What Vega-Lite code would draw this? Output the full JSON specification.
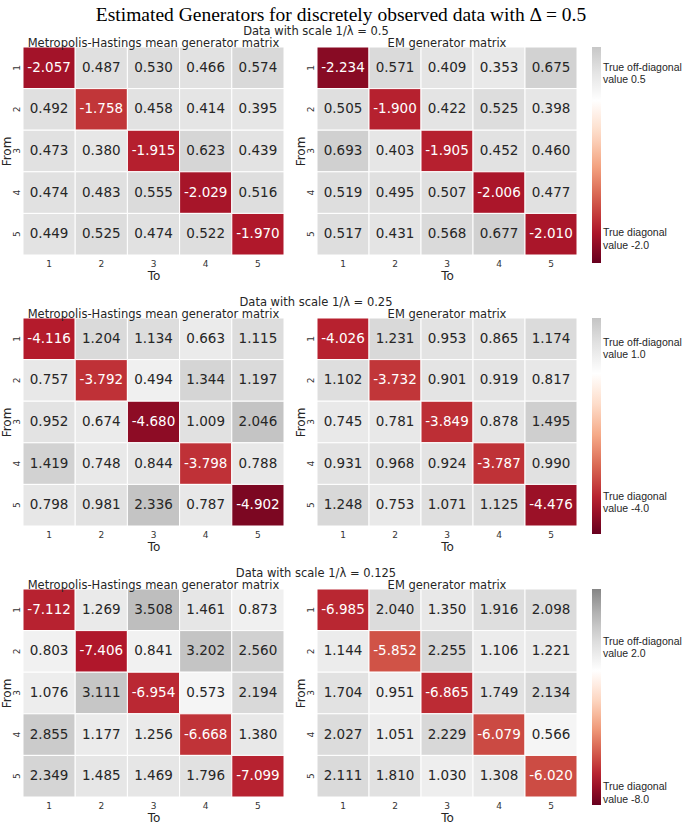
{
  "$schema": "https://vega.github.io/schema/vega-lite/v6.json",
  "padding": {"left": 0, "top": 5, "right": 0, "bottom": 0},
  "background": "white",
  "title": {"text": "Estimated Generators for discretely observed data with Δ = 0.5", "font": "Liberation Serif", "fontSize": 19.5, "fontWeight": "normal", "color": "#000000", "anchor": "middle", "frame": "bounds", "offset": 0},
  "config": {
    "locale": {"number": {"decimal": ".", "thousands": ",", "grouping": [3], "currency": ["$", ""], "minus": "-"}},
    "view": {"stroke": null},
    "font": "DejaVu Sans",
    "title": {"font": "DejaVu Sans", "fontSize": 11.5, "fontWeight": "normal", "color": "#262626", "offset": -3},
    "axis": {"domain": false, "ticks": false, "labelFont": "DejaVu Sans", "labelFontSize": 9, "labelColor": "#333333", "titleFont": "DejaVu Sans", "titleFontSize": 12, "titleFontWeight": "normal", "titleColor": "#262626", "grid": false},
    "axisX": {"labelAngle": 0, "labelPadding": 4, "titlePadding": 2},
    "axisY": {"labelAngle": -90, "labelPadding": 2, "titlePadding": 0, "minExtent": 10, "maxExtent": 10},
    "legend": {"gradientLength": 216, "gradientThickness": 9, "labelFont": "Liberation Sans", "labelFontSize": 10.5, "labelColor": "#262626", "offset": 14, "gradientStrokeWidth": 0, "labelOffset": 3, "titlePadding": 0}
  },
  "datasets": {
    "d": [
      {"s":1,"m":"MH","f":1,"t":1,"v":-2.057},{"s":1,"m":"MH","f":1,"t":2,"v":0.487},{"s":1,"m":"MH","f":1,"t":3,"v":0.530},{"s":1,"m":"MH","f":1,"t":4,"v":0.466},{"s":1,"m":"MH","f":1,"t":5,"v":0.574},
      {"s":1,"m":"MH","f":2,"t":1,"v":0.492},{"s":1,"m":"MH","f":2,"t":2,"v":-1.758},{"s":1,"m":"MH","f":2,"t":3,"v":0.458},{"s":1,"m":"MH","f":2,"t":4,"v":0.414},{"s":1,"m":"MH","f":2,"t":5,"v":0.395},
      {"s":1,"m":"MH","f":3,"t":1,"v":0.473},{"s":1,"m":"MH","f":3,"t":2,"v":0.380},{"s":1,"m":"MH","f":3,"t":3,"v":-1.915},{"s":1,"m":"MH","f":3,"t":4,"v":0.623},{"s":1,"m":"MH","f":3,"t":5,"v":0.439},
      {"s":1,"m":"MH","f":4,"t":1,"v":0.474},{"s":1,"m":"MH","f":4,"t":2,"v":0.483},{"s":1,"m":"MH","f":4,"t":3,"v":0.555},{"s":1,"m":"MH","f":4,"t":4,"v":-2.029},{"s":1,"m":"MH","f":4,"t":5,"v":0.516},
      {"s":1,"m":"MH","f":5,"t":1,"v":0.449},{"s":1,"m":"MH","f":5,"t":2,"v":0.525},{"s":1,"m":"MH","f":5,"t":3,"v":0.474},{"s":1,"m":"MH","f":5,"t":4,"v":0.522},{"s":1,"m":"MH","f":5,"t":5,"v":-1.970},
      {"s":1,"m":"EM","f":1,"t":1,"v":-2.234},{"s":1,"m":"EM","f":1,"t":2,"v":0.571},{"s":1,"m":"EM","f":1,"t":3,"v":0.409},{"s":1,"m":"EM","f":1,"t":4,"v":0.353},{"s":1,"m":"EM","f":1,"t":5,"v":0.675},
      {"s":1,"m":"EM","f":2,"t":1,"v":0.505},{"s":1,"m":"EM","f":2,"t":2,"v":-1.900},{"s":1,"m":"EM","f":2,"t":3,"v":0.422},{"s":1,"m":"EM","f":2,"t":4,"v":0.525},{"s":1,"m":"EM","f":2,"t":5,"v":0.398},
      {"s":1,"m":"EM","f":3,"t":1,"v":0.693},{"s":1,"m":"EM","f":3,"t":2,"v":0.403},{"s":1,"m":"EM","f":3,"t":3,"v":-1.905},{"s":1,"m":"EM","f":3,"t":4,"v":0.452},{"s":1,"m":"EM","f":3,"t":5,"v":0.460},
      {"s":1,"m":"EM","f":4,"t":1,"v":0.519},{"s":1,"m":"EM","f":4,"t":2,"v":0.495},{"s":1,"m":"EM","f":4,"t":3,"v":0.507},{"s":1,"m":"EM","f":4,"t":4,"v":-2.006},{"s":1,"m":"EM","f":4,"t":5,"v":0.477},
      {"s":1,"m":"EM","f":5,"t":1,"v":0.517},{"s":1,"m":"EM","f":5,"t":2,"v":0.431},{"s":1,"m":"EM","f":5,"t":3,"v":0.568},{"s":1,"m":"EM","f":5,"t":4,"v":0.677},{"s":1,"m":"EM","f":5,"t":5,"v":-2.010},
      {"s":2,"m":"MH","f":1,"t":1,"v":-4.116},{"s":2,"m":"MH","f":1,"t":2,"v":1.204},{"s":2,"m":"MH","f":1,"t":3,"v":1.134},{"s":2,"m":"MH","f":1,"t":4,"v":0.663},{"s":2,"m":"MH","f":1,"t":5,"v":1.115},
      {"s":2,"m":"MH","f":2,"t":1,"v":0.757},{"s":2,"m":"MH","f":2,"t":2,"v":-3.792},{"s":2,"m":"MH","f":2,"t":3,"v":0.494},{"s":2,"m":"MH","f":2,"t":4,"v":1.344},{"s":2,"m":"MH","f":2,"t":5,"v":1.197},
      {"s":2,"m":"MH","f":3,"t":1,"v":0.952},{"s":2,"m":"MH","f":3,"t":2,"v":0.674},{"s":2,"m":"MH","f":3,"t":3,"v":-4.680},{"s":2,"m":"MH","f":3,"t":4,"v":1.009},{"s":2,"m":"MH","f":3,"t":5,"v":2.046},
      {"s":2,"m":"MH","f":4,"t":1,"v":1.419},{"s":2,"m":"MH","f":4,"t":2,"v":0.748},{"s":2,"m":"MH","f":4,"t":3,"v":0.844},{"s":2,"m":"MH","f":4,"t":4,"v":-3.798},{"s":2,"m":"MH","f":4,"t":5,"v":0.788},
      {"s":2,"m":"MH","f":5,"t":1,"v":0.798},{"s":2,"m":"MH","f":5,"t":2,"v":0.981},{"s":2,"m":"MH","f":5,"t":3,"v":2.336},{"s":2,"m":"MH","f":5,"t":4,"v":0.787},{"s":2,"m":"MH","f":5,"t":5,"v":-4.902},
      {"s":2,"m":"EM","f":1,"t":1,"v":-4.026},{"s":2,"m":"EM","f":1,"t":2,"v":1.231},{"s":2,"m":"EM","f":1,"t":3,"v":0.953},{"s":2,"m":"EM","f":1,"t":4,"v":0.865},{"s":2,"m":"EM","f":1,"t":5,"v":1.174},
      {"s":2,"m":"EM","f":2,"t":1,"v":1.102},{"s":2,"m":"EM","f":2,"t":2,"v":-3.732},{"s":2,"m":"EM","f":2,"t":3,"v":0.901},{"s":2,"m":"EM","f":2,"t":4,"v":0.919},{"s":2,"m":"EM","f":2,"t":5,"v":0.817},
      {"s":2,"m":"EM","f":3,"t":1,"v":0.745},{"s":2,"m":"EM","f":3,"t":2,"v":0.781},{"s":2,"m":"EM","f":3,"t":3,"v":-3.849},{"s":2,"m":"EM","f":3,"t":4,"v":0.878},{"s":2,"m":"EM","f":3,"t":5,"v":1.495},
      {"s":2,"m":"EM","f":4,"t":1,"v":0.931},{"s":2,"m":"EM","f":4,"t":2,"v":0.968},{"s":2,"m":"EM","f":4,"t":3,"v":0.924},{"s":2,"m":"EM","f":4,"t":4,"v":-3.787},{"s":2,"m":"EM","f":4,"t":5,"v":0.990},
      {"s":2,"m":"EM","f":5,"t":1,"v":1.248},{"s":2,"m":"EM","f":5,"t":2,"v":0.753},{"s":2,"m":"EM","f":5,"t":3,"v":1.071},{"s":2,"m":"EM","f":5,"t":4,"v":1.125},{"s":2,"m":"EM","f":5,"t":5,"v":-4.476},
      {"s":3,"m":"MH","f":1,"t":1,"v":-7.112},{"s":3,"m":"MH","f":1,"t":2,"v":1.269},{"s":3,"m":"MH","f":1,"t":3,"v":3.508},{"s":3,"m":"MH","f":1,"t":4,"v":1.461},{"s":3,"m":"MH","f":1,"t":5,"v":0.873},
      {"s":3,"m":"MH","f":2,"t":1,"v":0.803},{"s":3,"m":"MH","f":2,"t":2,"v":-7.406},{"s":3,"m":"MH","f":2,"t":3,"v":0.841},{"s":3,"m":"MH","f":2,"t":4,"v":3.202},{"s":3,"m":"MH","f":2,"t":5,"v":2.560},
      {"s":3,"m":"MH","f":3,"t":1,"v":1.076},{"s":3,"m":"MH","f":3,"t":2,"v":3.111},{"s":3,"m":"MH","f":3,"t":3,"v":-6.954},{"s":3,"m":"MH","f":3,"t":4,"v":0.573},{"s":3,"m":"MH","f":3,"t":5,"v":2.194},
      {"s":3,"m":"MH","f":4,"t":1,"v":2.855},{"s":3,"m":"MH","f":4,"t":2,"v":1.177},{"s":3,"m":"MH","f":4,"t":3,"v":1.256},{"s":3,"m":"MH","f":4,"t":4,"v":-6.668},{"s":3,"m":"MH","f":4,"t":5,"v":1.380},
      {"s":3,"m":"MH","f":5,"t":1,"v":2.349},{"s":3,"m":"MH","f":5,"t":2,"v":1.485},{"s":3,"m":"MH","f":5,"t":3,"v":1.469},{"s":3,"m":"MH","f":5,"t":4,"v":1.796},{"s":3,"m":"MH","f":5,"t":5,"v":-7.099},
      {"s":3,"m":"EM","f":1,"t":1,"v":-6.985},{"s":3,"m":"EM","f":1,"t":2,"v":2.040},{"s":3,"m":"EM","f":1,"t":3,"v":1.350},{"s":3,"m":"EM","f":1,"t":4,"v":1.916},{"s":3,"m":"EM","f":1,"t":5,"v":2.098},
      {"s":3,"m":"EM","f":2,"t":1,"v":1.144},{"s":3,"m":"EM","f":2,"t":2,"v":-5.852},{"s":3,"m":"EM","f":2,"t":3,"v":2.255},{"s":3,"m":"EM","f":2,"t":4,"v":1.106},{"s":3,"m":"EM","f":2,"t":5,"v":1.221},
      {"s":3,"m":"EM","f":3,"t":1,"v":1.704},{"s":3,"m":"EM","f":3,"t":2,"v":0.951},{"s":3,"m":"EM","f":3,"t":3,"v":-6.865},{"s":3,"m":"EM","f":3,"t":4,"v":1.749},{"s":3,"m":"EM","f":3,"t":5,"v":2.134},
      {"s":3,"m":"EM","f":4,"t":1,"v":2.027},{"s":3,"m":"EM","f":4,"t":2,"v":1.051},{"s":3,"m":"EM","f":4,"t":3,"v":2.229},{"s":3,"m":"EM","f":4,"t":4,"v":-6.079},{"s":3,"m":"EM","f":4,"t":5,"v":0.566},
      {"s":3,"m":"EM","f":5,"t":1,"v":2.111},{"s":3,"m":"EM","f":5,"t":2,"v":1.810},{"s":3,"m":"EM","f":5,"t":3,"v":1.030},{"s":3,"m":"EM","f":5,"t":4,"v":1.308},{"s":3,"m":"EM","f":5,"t":5,"v":-6.020}
    ]
  },
  "resolve": {"scale": {"color": "independent"}},
  "spacing": 15,
  "vconcat": [
    {
      "title": {"text": "Data with scale 1/λ = 0.5", "fontSize": 11.5, "anchor": "middle", "frame": "bounds", "offset": 1, "dx": -25},
      "spacing": 9,
      "hconcat": [
        {"title": "Metropolis-Hastings mean generator matrix", "width": 261, "height": 208, "data": {"name": "d"},
         "transform": [{"filter": "datum.s == 1 && datum.m == 'MH'"}],
         "encoding": {"x": {"field": "t", "type": "ordinal", "title": "To"}, "y": {"field": "f", "type": "ordinal", "title": "From"}},
         "layer": [
           {"mark": {"type": "rect", "stroke": "white", "strokeWidth": 1}, "encoding": {"color": {"field": "v", "type": "quantitative", "scale": {"domain": [-2.45, -1.96, -1.47, -0.98, -0.49, 0, 0.49, 0.81], "range": ["#67001f", "#b2182b", "#d6604d", "#f4a582", "#fddbc7", "#ffffff", "#e0e0e0", "#c7c7c7"], "interpolate": "rgb", "clamp": true}, "legend": {"title": null, "values": [0.5, -2.0], "labelExpr": "datum.value > 0 ? ['True off-diagonal', ' value 0.5'] : ['True diagonal', ' value -2.0']"}}}},
           {"mark": {"type": "text", "fontSize": 13.5}, "encoding": {"text": {"field": "v", "type": "quantitative", "format": ".3f"}, "color": {"condition": {"test": "datum.v < 0", "value": "#ffffff"}, "value": "#262626"}}}
         ]},
        {"title": "EM generator matrix", "width": 260, "height": 208, "data": {"name": "d"},
         "transform": [{"filter": "datum.s == 1 && datum.m == 'EM'"}],
         "encoding": {"x": {"field": "t", "type": "ordinal", "title": "To"}, "y": {"field": "f", "type": "ordinal", "title": "From"}},
         "layer": [
           {"mark": {"type": "rect", "stroke": "white", "strokeWidth": 1}, "encoding": {"color": {"field": "v", "type": "quantitative", "scale": {"domain": [-2.45, -1.96, -1.47, -0.98, -0.49, 0, 0.49, 0.81], "range": ["#67001f", "#b2182b", "#d6604d", "#f4a582", "#fddbc7", "#ffffff", "#e0e0e0", "#c7c7c7"], "interpolate": "rgb", "clamp": true}, "legend": {"title": null, "values": [0.5, -2.0], "labelExpr": "datum.value > 0 ? ['True off-diagonal', ' value 0.5'] : ['True diagonal', ' value -2.0']"}}}},
           {"mark": {"type": "text", "fontSize": 13.5}, "encoding": {"text": {"field": "v", "type": "quantitative", "format": ".3f"}, "color": {"condition": {"test": "datum.v < 0", "value": "#ffffff"}, "value": "#262626"}}}
         ]}
      ]
    },
    {
      "title": {"text": "Data with scale 1/λ = 0.25", "fontSize": 11.5, "anchor": "middle", "frame": "bounds", "offset": 1, "dx": -25},
      "spacing": 9,
      "hconcat": [
        {"title": "Metropolis-Hastings mean generator matrix", "width": 261, "height": 208, "data": {"name": "d"},
         "transform": [{"filter": "datum.s == 2 && datum.m == 'MH'"}],
         "encoding": {"x": {"field": "t", "type": "ordinal", "title": "To"}, "y": {"field": "f", "type": "ordinal", "title": "From"}},
         "layer": [
           {"mark": {"type": "rect", "stroke": "white", "strokeWidth": 1}, "encoding": {"color": {"field": "v", "type": "quantitative", "scale": {"domain": [-5.2, -4.16, -3.12, -2.08, -1.04, 0, 1.04, 1.8], "range": ["#67001f", "#b2182b", "#d6604d", "#f4a582", "#fddbc7", "#ffffff", "#e0e0e0", "#c4c4c4"], "interpolate": "rgb", "clamp": true}, "legend": {"title": null, "values": [1.0, -4.0], "labelExpr": "datum.value > 0 ? ['True off-diagonal', ' value 1.0'] : ['True diagonal', ' value -4.0']"}}}},
           {"mark": {"type": "text", "fontSize": 13.5}, "encoding": {"text": {"field": "v", "type": "quantitative", "format": ".3f"}, "color": {"condition": {"test": "datum.v < 0", "value": "#ffffff"}, "value": "#262626"}}}
         ]},
        {"title": "EM generator matrix", "width": 260, "height": 208, "data": {"name": "d"},
         "transform": [{"filter": "datum.s == 2 && datum.m == 'EM'"}],
         "encoding": {"x": {"field": "t", "type": "ordinal", "title": "To"}, "y": {"field": "f", "type": "ordinal", "title": "From"}},
         "layer": [
           {"mark": {"type": "rect", "stroke": "white", "strokeWidth": 1}, "encoding": {"color": {"field": "v", "type": "quantitative", "scale": {"domain": [-5.2, -4.16, -3.12, -2.08, -1.04, 0, 1.04, 1.8], "range": ["#67001f", "#b2182b", "#d6604d", "#f4a582", "#fddbc7", "#ffffff", "#e0e0e0", "#c4c4c4"], "interpolate": "rgb", "clamp": true}, "legend": {"title": null, "values": [1.0, -4.0], "labelExpr": "datum.value > 0 ? ['True off-diagonal', ' value 1.0'] : ['True diagonal', ' value -4.0']"}}}},
           {"mark": {"type": "text", "fontSize": 13.5}, "encoding": {"text": {"field": "v", "type": "quantitative", "format": ".3f"}, "color": {"condition": {"test": "datum.v < 0", "value": "#ffffff"}, "value": "#262626"}}}
         ]}
      ]
    },
    {
      "title": {"text": "Data with scale 1/λ = 0.125", "fontSize": 11.5, "anchor": "middle", "frame": "bounds", "offset": 1, "dx": -25},
      "spacing": 9,
      "hconcat": [
        {"title": "Metropolis-Hastings mean generator matrix", "width": 261, "height": 208, "data": {"name": "d"},
         "transform": [{"filter": "datum.s == 3 && datum.m == 'MH'"}],
         "encoding": {"x": {"field": "t", "type": "ordinal", "title": "To"}, "y": {"field": "f", "type": "ordinal", "title": "From"}},
         "layer": [
           {"mark": {"type": "rect", "stroke": "white", "strokeWidth": 1}, "encoding": {"color": {"field": "v", "type": "quantitative", "scale": {"domain": [-9.2, -7.36, -5.52, -3.68, -1.84, 0, 1.84, 3.68, 5.6], "range": ["#67001f", "#b2182b", "#d6604d", "#f4a582", "#fddbc7", "#ffffff", "#e0e0e0", "#bababa", "#858585"], "interpolate": "rgb", "clamp": true}, "legend": {"title": null, "values": [2.0, -8.0], "labelExpr": "datum.value > 0 ? ['True off-diagonal', ' value 2.0'] : ['True diagonal', ' value -8.0']"}}}},
           {"mark": {"type": "text", "fontSize": 13.5}, "encoding": {"text": {"field": "v", "type": "quantitative", "format": ".3f"}, "color": {"condition": {"test": "datum.v < 0", "value": "#ffffff"}, "value": "#262626"}}}
         ]},
        {"title": "EM generator matrix", "width": 260, "height": 208, "data": {"name": "d"},
         "transform": [{"filter": "datum.s == 3 && datum.m == 'EM'"}],
         "encoding": {"x": {"field": "t", "type": "ordinal", "title": "To"}, "y": {"field": "f", "type": "ordinal", "title": "From"}},
         "layer": [
           {"mark": {"type": "rect", "stroke": "white", "strokeWidth": 1}, "encoding": {"color": {"field": "v", "type": "quantitative", "scale": {"domain": [-9.2, -7.36, -5.52, -3.68, -1.84, 0, 1.84, 3.68, 5.6], "range": ["#67001f", "#b2182b", "#d6604d", "#f4a582", "#fddbc7", "#ffffff", "#e0e0e0", "#bababa", "#858585"], "interpolate": "rgb", "clamp": true}, "legend": {"title": null, "values": [2.0, -8.0], "labelExpr": "datum.value > 0 ? ['True off-diagonal', ' value 2.0'] : ['True diagonal', ' value -8.0']"}}}},
           {"mark": {"type": "text", "fontSize": 13.5}, "encoding": {"text": {"field": "v", "type": "quantitative", "format": ".3f"}, "color": {"condition": {"test": "datum.v < 0", "value": "#ffffff"}, "value": "#262626"}}}
         ]}
      ]
    }
  ]
}
